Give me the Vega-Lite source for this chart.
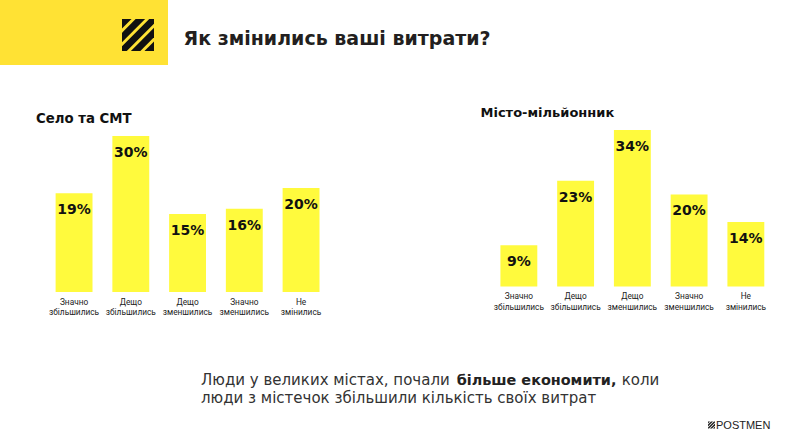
{
  "$schema": "https://vega.github.io/schema/vega-lite/v6.json",
  "background": "#ffffff",
  "padding": 0,
  "config": {"view": {"stroke": null}, "font": "DejaVu Sans"},
  "datasets": {
    "logo": [
      {"band": 1, "u": 0, "v": 0, "v2": 0.298},
      {"band": 1, "u": 0.298, "v": 0, "v2": 0},
      {"band": 2, "u": 0, "v": 0.426, "v2": 0.723},
      {"band": 2, "u": 0.426, "v": 0, "v2": 0.297},
      {"band": 2, "u": 0.723, "v": 0, "v2": 0},
      {"band": 3, "u": 0, "v": 0.851, "v2": 1},
      {"band": 3, "u": 0.149, "v": 0.702, "v2": 1},
      {"band": 3, "u": 0.851, "v": 0, "v2": 0.298},
      {"band": 3, "u": 1, "v": 0, "v2": 0.149},
      {"band": 4, "u": 0.277, "v": 1, "v2": 1},
      {"band": 4, "u": 0.574, "v": 0.703, "v2": 1},
      {"band": 4, "u": 1, "v": 0.277, "v2": 0.574},
      {"band": 5, "u": 0.702, "v": 1, "v2": 1},
      {"band": 5, "u": 1, "v": 0.702, "v2": 1}
    ],
    "selo": [
      {"cat": "Значно збільшились", "v": 0.19},
      {"cat": "Дещо збільшились", "v": 0.30},
      {"cat": "Дещо зменшились", "v": 0.15},
      {"cat": "Значно зменшились", "v": 0.16},
      {"cat": "Не змінились", "v": 0.20}
    ],
    "misto": [
      {"cat": "Значно збільшились", "v": 0.09},
      {"cat": "Дещо збільшились", "v": 0.23},
      {"cat": "Дещо зменшились", "v": 0.34},
      {"cat": "Значно зменшились", "v": 0.20},
      {"cat": "Не змінились", "v": 0.14}
    ]
  },
  "spacing": 18,
  "vconcat": [
    {
      "spacing": 15,
      "hconcat": [
        {
          "width": 168,
          "height": 65,
          "view": {"fill": "#FFE234", "stroke": null},
          "data": {"name": "logo"},
          "mark": {"type": "area", "color": "#111111", "interpolate": "linear"},
          "encoding": {
            "x": {"field": "u", "type": "quantitative", "scale": {"domain": [-3.8125, 1.4375], "nice": false, "zero": false}, "axis": null},
            "y": {"field": "v", "type": "quantitative", "scale": {"domain": [-0.59375, 1.4375], "nice": false, "zero": false, "reverse": true}, "axis": null},
            "y2": {"field": "v2"},
            "detail": {"field": "band", "type": "nominal"}
          }
        },
        {
          "width": 1,
          "height": 89,
          "data": {"values": [{"t": "Як змінились ваші витрати?"}]},
          "mark": {"type": "text", "align": "left", "baseline": "alphabetic", "font": "DejaVu Sans", "fontWeight": "bold", "fontSize": 19, "color": "#231F20"},
          "encoding": {"text": {"field": "t", "type": "nominal"}}
        }
      ]
    },
    {
      "spacing": 0,
      "vconcat": [
        {
          "spacing": 123.8,
          "hconcat": [
            {
              "width": 319.5,
              "height": 162,
              "title": {"text": "Село та СМТ", "anchor": "start", "dx": 36, "font": "DejaVu Sans", "fontSize": 13.3, "fontWeight": "bold", "color": "#111111", "baseline": "alphabetic", "offset": -6.3},
              "data": {"name": "selo"},
              "encoding": {
                "x": {"field": "cat", "type": "nominal", "sort": null,
                  "scale": {"paddingInner": 0.35, "paddingOuter": 0.49, "align": 1},
                  "axis": {"title": null, "labelAngle": 0, "domain": false, "ticks": false, "labelPadding": 5, "labelFont": "Roboto", "labelFontSize": 8.3, "labelColor": "#222222", "labelLineHeight": 10.5, "labelOverlap": false, "labelExpr": "split(datum.label, ' ')"}}
              },
              "layer": [
                {"mark": {"type": "bar", "color": "#FFFA3D"},
                 "encoding": {"y": {"field": "v", "type": "quantitative", "scale": {"domain": [0, 0.311538], "nice": false}, "axis": null}}},
                {"mark": {"type": "text", "dy": 21, "baseline": "alphabetic", "font": "DejaVu Sans", "fontWeight": "bold", "fontSize": 14, "color": "#111111"},
                 "encoding": {"y": {"field": "v", "type": "quantitative"}, "text": {"field": "v", "type": "quantitative", "format": ".0%"}}}
              ]
            },
            {
              "width": 319.5,
              "height": 156.6,
              "title": {"text": "Місто-мільйонник", "anchor": "start", "dx": 35.7, "font": "DejaVu Sans", "fontSize": 13, "fontWeight": "bold", "color": "#111111", "baseline": "alphabetic", "offset": 0},
              "data": {"name": "misto"},
              "encoding": {
                "x": {"field": "cat", "type": "nominal", "sort": null,
                  "scale": {"paddingInner": 0.35, "paddingOuter": 0.49, "align": 1},
                  "axis": {"title": null, "labelAngle": 0, "domain": false, "ticks": false, "labelPadding": 5, "labelFont": "Roboto", "labelFontSize": 8.3, "labelColor": "#222222", "labelLineHeight": 10.5, "labelOverlap": false, "labelExpr": "split(datum.label, ' ')"}}
              },
              "layer": [
                {"mark": {"type": "bar", "color": "#FFFA3D"},
                 "encoding": {"y": {"field": "v", "type": "quantitative", "scale": {"domain": [0, 0.34], "nice": false}, "axis": null}}},
                {"mark": {"type": "text", "dy": 21, "baseline": "alphabetic", "font": "DejaVu Sans", "fontWeight": "bold", "fontSize": 14, "color": "#111111"},
                 "encoding": {"y": {"field": "v", "type": "quantitative"}, "text": {"field": "v", "type": "quantitative", "format": ".0%"}}}
              ]
            }
          ]
        },
        {
          "width": 798,
          "height": 120,
          "layer": [
            {
              "data": {"values": [{"t": "Люди у великих містах, почали"}]},
              "mark": {"type": "text", "align": "left", "baseline": "alphabetic", "dx": -198, "dy": 9, "font": "DejaVu Sans", "fontSize": 15, "color": "#333333"},
              "encoding": {"text": {"field": "t", "type": "nominal"}}
            },
            {
              "data": {"values": [{"t": "більше економити,"}]},
              "mark": {"type": "text", "align": "left", "baseline": "alphabetic", "dx": 57.7, "dy": 9, "font": "DejaVu Sans", "fontWeight": "bold", "fontSize": 14.4, "color": "#222222"},
              "encoding": {"text": {"field": "t", "type": "nominal"}}
            },
            {
              "data": {"values": [{"t": "коли"}]},
              "mark": {"type": "text", "align": "left", "baseline": "alphabetic", "dx": 222.7, "dy": 9, "font": "DejaVu Sans", "fontSize": 15, "color": "#333333"},
              "encoding": {"text": {"field": "t", "type": "nominal"}}
            },
            {
              "data": {"values": [{"t": "люди з містечок збільшили кількість своїх витрат"}]},
              "mark": {"type": "text", "align": "left", "baseline": "alphabetic", "dx": -198, "dy": 27, "font": "DejaVu Sans", "fontSize": 15, "color": "#333333"},
              "encoding": {"text": {"field": "t", "type": "nominal"}}
            },
            {
              "data": {"values": [{"t": "POSTMEN"}]},
              "mark": {"type": "text", "align": "left", "baseline": "alphabetic", "dx": 317, "dy": 52.5, "font": "Liberation Sans", "fontSize": 11, "color": "#222222"},
              "encoding": {"text": {"field": "t", "type": "nominal"}}
            },
            {
              "data": {"name": "logo"},
              "mark": {"type": "area", "color": "#222222", "interpolate": "linear"},
              "encoding": {
                "x": {"field": "u", "type": "quantitative", "scale": {"domain": [-101.143, 12.857], "nice": false, "zero": false}, "axis": null},
                "y": {"field": "v", "type": "quantitative", "scale": {"domain": [-15.07, 2.07], "nice": false, "zero": false, "reverse": true}, "axis": null},
                "y2": {"field": "v2"},
                "detail": {"field": "band", "type": "nominal"}
              }
            }
          ]
        }
      ]
    }
  ]
}
